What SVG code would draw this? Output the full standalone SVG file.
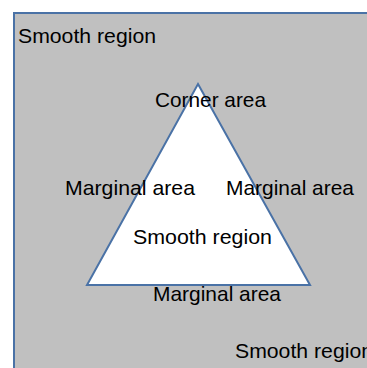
<svg xmlns="http://www.w3.org/2000/svg" width="367" height="368" viewBox="0 0 367 368">
<style>
.shape{stroke:#4a72a6;stroke-width:2}
.lbl{font-family:"Liberation Sans",Arial,sans-serif;font-size:21px;fill:#000}
</style>
<rect width="367" height="368" fill="#ffffff"/>
<g id="outer-region">
<rect class="shape" x="14" y="13" width="370" height="370" fill="#c0c0c0"/>
<text class="lbl" x="18" y="43" textLength="138" lengthAdjust="spacingAndGlyphs">Smooth region</text>
<text class="lbl" x="235" y="358" textLength="138" lengthAdjust="spacingAndGlyphs">Smooth region</text>
</g>
<g id="triangle">
<polygon class="shape" points="198,84 310,285 87,285" fill="#ffffff"/>
<text class="lbl" x="133" y="244" textLength="139" lengthAdjust="spacingAndGlyphs">Smooth region</text>
</g>
<g id="labels">
<text class="lbl" x="155" y="107" textLength="111" lengthAdjust="spacingAndGlyphs">Corner area</text>
<text class="lbl" x="65" y="195" textLength="130" lengthAdjust="spacingAndGlyphs">Marginal area</text>
<text class="lbl" x="226" y="195" textLength="128" lengthAdjust="spacingAndGlyphs">Marginal area</text>
<text class="lbl" x="153" y="301" textLength="128" lengthAdjust="spacingAndGlyphs">Marginal area</text>
</g>
</svg>
